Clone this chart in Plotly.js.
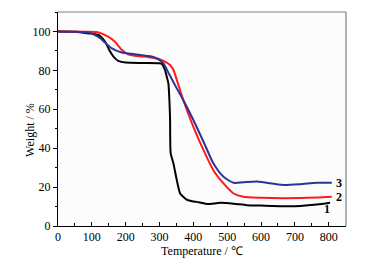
<!DOCTYPE html>
<html>
<head>
<meta charset="utf-8">
<script src="https://cdn.plot.ly/plotly-3.0.1.min.js"></script>
<style>html,body{margin:0;padding:0;background:#fff;}#chart{width:366px;height:260px;}</style>
</head>
<body>
<div id="chart"></div>
<script>
// Curve 1 (black)
const temp1 = [0, 50, 90, 118, 139, 150, 160, 168, 178, 200, 250, 296, 306, 316, 321, 326, 331, 333, 341, 351, 361, 380, 400, 410, 440, 479, 519, 558, 600, 666, 716, 765, 804];
const weight1 = [100, 99.8, 99, 98.3, 94.8, 91, 88, 86.3, 84.9, 84, 83.8, 83.7, 83.5, 80.3, 77, 73.4, 56.2, 37.3, 32.2, 23.6, 16.7, 13.6, 12.6, 12.4, 11.3, 11.9, 11.5, 10.7, 10.5, 10.2, 10.3, 11, 11.9];
// Curve 2 (red)
const temp2 = [0, 80, 118, 148, 168, 188, 207, 227, 267, 296, 316, 331, 341, 351, 370, 400, 430, 459, 489, 519, 548, 598, 666, 765, 809];
const weight2 = [100, 99.9, 99.6, 97.4, 94.8, 90.6, 88.3, 87.5, 86.8, 86, 84.5, 82.8, 80.3, 75.1, 64.8, 51, 39, 28.7, 21.9, 16.7, 15, 14.5, 14.3, 14.6, 15];
// Curve 3 (blue)
const temp3 = [0, 60, 89, 108, 125, 138, 158, 188, 227, 277, 296, 311, 331, 350, 370, 400, 430, 459, 489, 519, 548, 588, 607, 666, 716, 765, 809];
const weight3 = [100, 99.8, 99.5, 98.3, 96.5, 94.5, 91.4, 89.2, 88.3, 87.1, 85.8, 83.7, 77.2, 71, 64.8, 54.5, 43.3, 32.2, 25.3, 22.2, 22.5, 22.9, 22.5, 21.1, 21.5, 22.2, 22.2];
// Curve labels
const curveLabels = ['1', '2', '3'];
const labelX = [796, 831, 831];
const labelY = [8.5, 15, 22.2];
const xTicks = [0, 100, 200, 300, 400, 500, 600, 700, 800];
const yTicks = [0, 20, 40, 60, 80, 100];
const xTitle = 'Temperature / ℃';
const yTitle = 'Weight / %';

const serif = 'Times New Roman';
const traces = [
  {x: temp1, y: weight1, mode: 'lines', line: {color: '#000000', width: 2, shape: 'spline', smoothing: 0.6}},
  {x: temp2, y: weight2, mode: 'lines', line: {color: '#ff1a1a', width: 2, shape: 'spline', smoothing: 0.6}},
  {x: temp3, y: weight3, mode: 'lines', line: {color: '#2b3398', width: 2, shape: 'spline', smoothing: 0.6}}
];
const annotations = curveLabels.map((t, i) => ({
  x: labelX[i], y: labelY[i], xref: 'x', yref: 'y', text: '<b>' + t + '</b>',
  showarrow: false, font: {family: serif, size: 12, color: '#000'}
}));
annotations.push({
  x: -0.10, y: 0.45, xref: 'paper', yref: 'paper', text: yTitle, textangle: -90,
  showarrow: false, xanchor: 'center', yanchor: 'middle', font: {family: serif, size: 12, color: '#000'}
});
const layout = {
  width: 366, height: 260,
  margin: {l: 58, r: 20, t: 12, b: 34},
  paper_bgcolor: '#ffffff', plot_bgcolor: '#fcfcfc',
  showlegend: false,
  font: {family: serif, size: 12, color: '#000'},
  xaxis: {
    range: [0, 851], tickvals: xTicks, ticks: 'inside', ticklen: 4, tickcolor: '#000',
    minor: {dtick: 50, ticks: 'inside', ticklen: 3, tickcolor: '#000'},
    showline: true, linecolor: '#000', linewidth: 1, showgrid: false, zeroline: false,
    tickfont: {family: serif, size: 12},
    title: {text: xTitle, font: {family: serif, size: 12}, standoff: 1}
  },
  yaxis: {
    range: [0, 110], tickvals: yTicks, ticks: 'outside', ticklen: 4, tickcolor: '#000',
    minor: {dtick: 10, ticks: 'outside', ticklen: 2, tickcolor: '#000'},
    showline: true, linecolor: '#000', linewidth: 1, showgrid: false, zeroline: false,
    tickfont: {family: serif, size: 12}
  },
  shapes: [
    {type: 'line', xref: 'paper', yref: 'paper', x0: 0, x1: 1, y0: 1, y1: 1, line: {color: '#808080', width: 1.2}},
    {type: 'line', xref: 'paper', yref: 'paper', x0: 1, x1: 1, y0: 0, y1: 1, line: {color: '#808080', width: 1.2}}
  ],
  annotations: annotations
};
Plotly.newPlot('chart', traces, layout, {staticPlot: true, displayModeBar: false});
</script>
</body>
</html>
